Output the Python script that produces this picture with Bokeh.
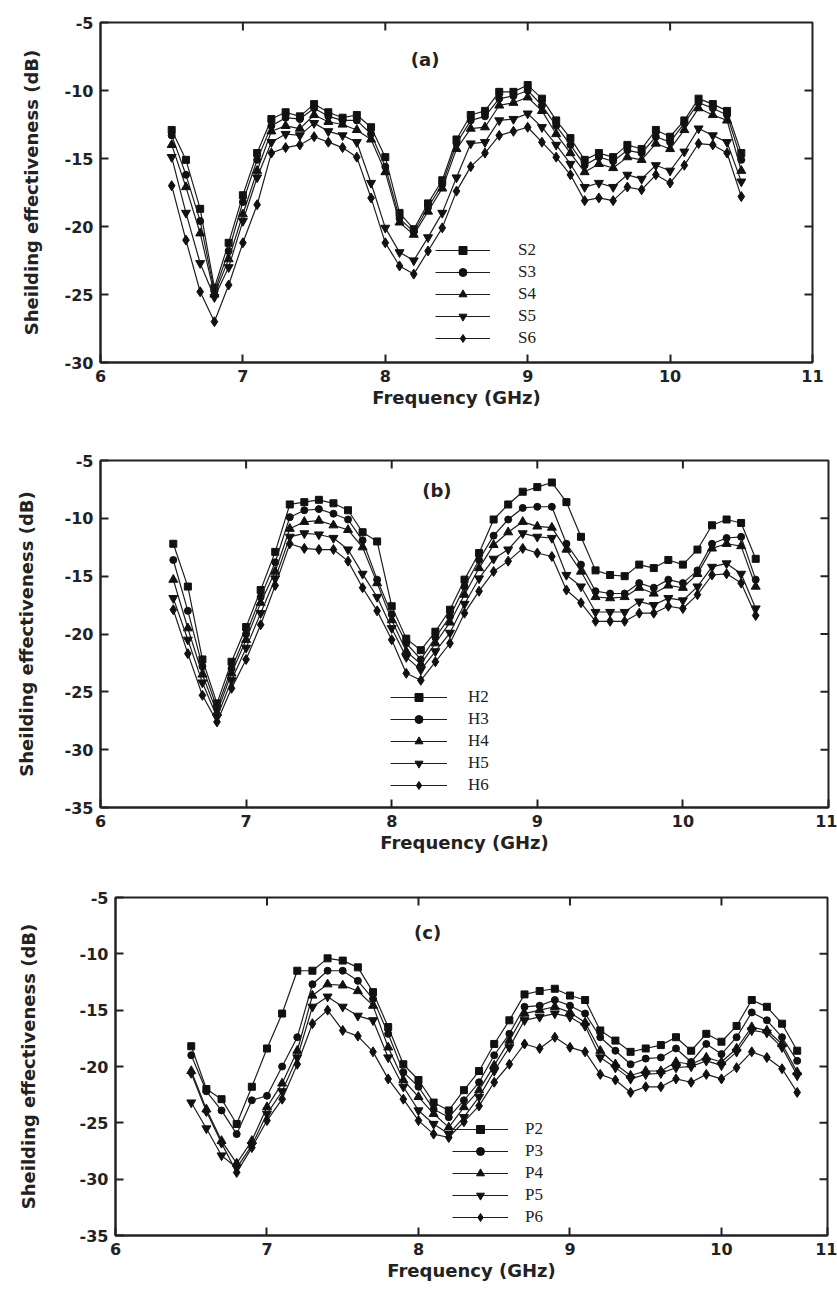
import math
from bokeh.plotting import figure
from bokeh.models import (FixedTicker, Legend, LegendItem, Label,
                          Range1d, ColumnDataSource)
from bokeh.embed import file_html
from bokeh.resources import INLINE

# ---------------- data ----------------
freq = [6.5, 6.6, 6.7, 6.8, 6.9, 7.0, 7.1, 7.2, 7.3, 7.4, 7.5, 7.6, 7.7, 7.8,
        7.9, 8.0, 8.1, 8.2, 8.3, 8.4, 8.5, 8.6, 8.7, 8.8, 8.9, 9.0, 9.1, 9.2,
        9.3, 9.4, 9.5, 9.6, 9.7, 9.8, 9.9, 10.0, 10.1, 10.2, 10.3, 10.4, 10.5]

S2 = [-12.9, -15.1, -18.7, -24.5, -21.2, -17.7, -14.6, -12.1, -11.6, -11.9, -11.0, -11.6,
      -12.0, -11.8, -12.7, -14.9, -19.0, -20.2, -18.3, -16.6, -13.6, -11.8, -11.5, -10.1,
      -10.1, -9.6, -10.6, -12.2, -13.5, -15.1, -14.6, -14.9, -14.0, -14.3, -12.9, -13.4,
      -12.2, -10.6, -11.0, -11.5, -14.6]
S3 = [-13.3, -16.2, -19.6, -24.8, -21.8, -18.2, -15.1, -12.6, -12.0, -12.1, -11.3, -11.9,
      -12.2, -12.2, -13.2, -15.6, -19.4, -20.4, -18.6, -16.9, -13.9, -12.2, -11.9, -10.6,
      -10.4, -10.0, -11.1, -12.6, -14.0, -15.5, -14.9, -15.2, -14.4, -14.6, -13.4, -13.8,
      -12.4, -10.9, -11.3, -11.8, -15.1]
S4 = [-14.0, -17.1, -20.5, -25.0, -22.4, -19.1, -15.9, -13.0, -12.6, -12.8, -11.8, -12.3,
      -12.5, -12.9, -13.6, -16.0, -19.7, -20.6, -18.9, -17.2, -14.3, -12.8, -12.7, -11.1,
      -10.9, -10.5, -11.5, -13.2, -14.6, -16.0, -15.4, -15.7, -14.9, -15.1, -13.9, -14.3,
      -12.9, -11.3, -11.8, -12.2, -15.9]
S5 = [-14.9, -19.0, -22.7, -25.2, -23.0, -19.6, -16.4, -13.8, -13.2, -13.3, -12.4, -13.0,
      -13.3, -13.8, -16.8, -20.1, -21.9, -22.5, -20.8, -19.0, -16.4, -13.9, -13.8, -12.2,
      -12.1, -11.7, -12.7, -14.0, -15.4, -17.1, -16.8, -17.1, -16.2, -16.5, -15.5, -15.9,
      -14.5, -12.8, -13.3, -13.8, -16.7]
S6 = [-17.0, -21.0, -24.8, -27.0, -24.3, -21.2, -18.4, -14.6, -14.2, -14.0, -13.4, -13.8,
      -14.2, -14.9, -17.9, -21.2, -22.9, -23.5, -21.8, -20.1, -17.4, -15.6, -14.6, -13.3,
      -13.0, -12.7, -13.8, -14.9, -16.2, -18.1, -17.9, -18.1, -17.1, -17.3, -16.2, -16.8,
      -15.5, -13.9, -14.0, -14.6, -17.8]

H2 = [-12.2, -15.9, -22.2, -26.0, -22.4, -19.4, -16.2, -12.9, -8.8, -8.6, -8.4, -8.7,
      -9.3, -11.2, -12.0, -17.6, -20.4, -21.4, -19.8, -17.9, -15.3, -13.0, -10.1, -8.8,
      -7.7, -7.3, -6.9, -8.6, -11.6, -14.5, -14.9, -15.0, -14.0, -14.3, -13.6, -14.0,
      -12.7, -10.6, -10.1, -10.4, -13.5]
H3 = [-13.6, -18.0, -22.8, -26.4, -23.0, -20.0, -16.8, -13.8, -9.9, -9.3, -9.2, -9.6,
      -10.1, -11.9, -15.3, -18.3, -20.8, -22.2, -20.3, -18.5, -15.9, -13.6, -11.5, -10.1,
      -9.1, -9.0, -9.0, -12.2, -14.0, -16.3, -16.5, -16.5, -15.6, -16.0, -15.3, -15.6,
      -14.5, -12.2, -11.7, -11.6, -15.3]
H4 = [-15.3, -19.5, -23.5, -26.8, -23.4, -20.5, -17.3, -14.6, -10.9, -10.3, -10.2, -10.6,
      -11.0, -12.5, -15.6, -18.8, -21.5, -22.6, -20.8, -19.0, -16.6, -14.3, -12.3, -11.2,
      -10.3, -10.7, -10.8, -12.7, -14.6, -16.8, -16.9, -16.8, -16.0, -16.5, -15.8, -16.0,
      -14.8, -12.6, -12.2, -12.4, -15.9]
H5 = [-16.9, -20.5, -24.2, -27.2, -24.0, -21.2, -18.2, -15.2, -11.6, -11.3, -11.4, -11.7,
      -12.7, -14.8, -16.8, -19.5, -22.0, -23.1, -21.5, -19.9, -17.4, -15.2, -13.5, -12.7,
      -11.3, -11.6, -11.7, -14.9, -15.9, -18.1, -18.1, -18.1, -17.2, -17.5, -16.9, -17.1,
      -15.9, -14.2, -13.9, -14.8, -17.8]
H6 = [-17.9, -21.7, -25.3, -27.6, -24.7, -22.2, -19.2, -15.8, -12.2, -12.6, -12.7, -12.7,
      -13.7, -16.0, -18.0, -20.5, -23.4, -24.0, -22.4, -20.8, -18.2, -16.3, -14.6, -13.7,
      -12.6, -13.0, -13.3, -16.2, -17.3, -18.9, -18.9, -18.9, -18.2, -18.2, -17.6, -17.8,
      -16.6, -14.9, -14.8, -15.6, -18.4]

P2 = [-18.2, -22.0, -22.9, -25.1, -21.8, -18.4, -15.3, -11.5, -11.5, -10.4, -10.6, -11.2,
      -13.4, -16.5, -19.8, -21.2, -23.2, -23.9, -22.1, -20.4, -18.0, -15.9, -13.6, -13.3,
      -13.1, -13.7, -14.1, -16.8, -17.7, -18.7, -18.4, -18.1, -17.4, -18.6, -17.1, -17.8,
      -16.4, -14.1, -14.7, -16.2, -18.6]
P3 = [-19.0, -22.2, -23.9, -26.0, -23.0, -22.6, -20.0, -17.4, -12.7, -11.5, -11.5, -12.4,
      -14.0, -17.1, -20.5, -21.8, -23.8, -24.5, -23.0, -21.4, -19.0, -17.1, -14.7, -14.6,
      -14.1, -14.6, -15.3, -17.4, -18.6, -19.8, -19.3, -19.2, -18.4, -19.6, -18.0, -18.9,
      -17.4, -15.2, -15.9, -17.4, -19.5]
P4 = [-20.4, -23.8, -26.6, -28.6, -26.6, -23.6, -21.5, -18.6, -13.7, -12.7, -12.8, -13.3,
      -14.6, -18.3, -21.2, -22.7, -24.2, -25.4, -23.6, -22.1, -19.9, -17.7, -15.3, -15.0,
      -14.7, -15.2, -16.1, -18.6, -19.8, -20.8, -20.4, -20.4, -19.6, -19.8, -19.2, -19.6,
      -18.4, -16.5, -16.8, -18.0, -20.5]
P5 = [-23.2, -25.5, -27.9, -29.0, -27.0, -24.2, -22.2, -19.2, -14.7, -13.8, -14.7, -15.5,
      -15.9, -19.2, -21.8, -23.9, -25.1, -26.0, -24.5, -22.7, -20.4, -18.3, -15.9, -15.6,
      -15.3, -15.6, -16.4, -19.2, -20.1, -21.1, -20.7, -20.6, -20.1, -20.0, -19.5, -19.9,
      -18.7, -16.8, -17.0, -18.3, -20.8]
P6 = [-20.6, -24.0, -26.8, -29.4, -27.2, -24.8, -22.9, -19.8, -16.2, -15.0, -16.8, -17.3,
      -18.7, -21.1, -22.9, -24.8, -26.0, -26.3, -24.9, -23.5, -21.4, -19.8, -18.0, -18.4,
      -17.4, -18.3, -18.7, -20.7, -21.2, -22.3, -21.8, -21.8, -21.1, -21.4, -20.7, -21.1,
      -20.1, -18.7, -19.2, -20.2, -22.3]

x_ticks_ab = [6, 7, 8, 9, 10, 11]
x_ticks_c = [6, 7, 8, 9, 10, 10.7]
x_labels_c = {10.7: "11"}
y_ticks_a = [-30, -25, -20, -15, -10, -5]
y_ticks_bc = [-35, -30, -25, -20, -15, -10, -5]

markers = ["square", "circle", "triangle", "inverted_triangle", "diamond"]
msizes = [7, 7, 9, 9, 10]

FONT = "DejaVu Sans"
INK = "#222222"


def style_axis(ax):
    ax.axis_line_width = 2
    ax.axis_line_color = INK
    ax.major_tick_in = 8
    ax.major_tick_out = 0
    ax.minor_tick_in = 0
    ax.minor_tick_out = 0
    ax.major_tick_line_width = 2
    ax.major_tick_line_color = INK
    ax.major_label_text_font = FONT
    ax.major_label_text_font_style = "bold"
    ax.major_label_text_color = INK
    ax.major_label_text_font_size = "16px"
    ax.major_label_standoff = 7
    ax.axis_label_text_font = FONT
    ax.axis_label_text_font_style = "bold"
    ax.axis_label_text_font_size = "18px"
    ax.axis_label_text_color = INK


def panel(names, series, tag, tag_xy, W, H, left, right, top, bottom, xmax,
          ylo, yticks, xticks, xover, leg_loc, leg_standoff, glyph_w, ylab_so):
    p = figure(width=W, height=H, x_range=Range1d(6, xmax), y_range=Range1d(ylo, -5),
               output_backend="svg", toolbar_location=None,
               min_border_left=left, min_border_right=right,
               min_border_top=top, min_border_bottom=bottom)
    p.grid.visible = False
    p.outline_line_color = INK
    p.outline_line_width = 2
    p.background_fill_color = "white"
    p.border_fill_color = "white"

    p.xaxis.ticker = FixedTicker(ticks=xticks)
    p.yaxis.ticker = FixedTicker(ticks=yticks)
    if xover:
        p.xaxis.major_label_overrides = xover
    # plain hyphen for negative tick labels, as in the original
    p.yaxis.major_label_overrides = {t: "-%d" % abs(t) for t in yticks}
    p.xaxis.axis_label = "Frequency (GHz)"
    p.yaxis.axis_label = "Sheilding effectiveness (dB)"
    for ax in p.xaxis + p.yaxis:
        style_axis(ax)
    p.xaxis.axis_label_standoff = 2
    p.yaxis.axis_label_standoff = ylab_so

    # mirrored inside ticks on the top and right edges of the box
    inner_x = [t for t in xticks[1:-1]]
    inner_y = [t for t in yticks[1:-1]]
    p.ray(x=inner_x, y=[-5] * len(inner_x), length=8, length_units="screen",
          angle=-math.pi / 2, line_color=INK, line_width=2)
    p.ray(x=[xmax] * len(inner_y), y=inner_y, length=8, length_units="screen",
          angle=math.pi, line_color=INK, line_width=2)

    items = []
    for name, vals, mk, ms in zip(names, series, markers, msizes):
        src = ColumnDataSource(dict(x=freq, y=vals))
        rl = p.line("x", "y", source=src, line_color="#1e1e1e", line_width=1.2)
        rs = p.scatter("x", "y", source=src, marker=mk, size=ms,
                       fill_color="#111111", line_color="#111111")
        items.append(LegendItem(label=name, renderers=[rl, rs]))

    leg = Legend(items=items, location=leg_loc, glyph_width=glyph_w, glyph_height=20,
                 label_height=20, spacing=2, padding=0, margin=0,
                 border_line_color=None, background_fill_alpha=0,
                 label_text_font="Liberation Serif", label_text_font_size="17px",
                 label_text_color=INK, label_standoff=leg_standoff)
    p.add_layout(leg)

    p.add_layout(Label(x=tag_xy[0], y=tag_xy[1], text=tag, text_font=FONT,
                       text_font_style="bold", text_font_size="18px",
                       text_color=INK, text_align="center",
                       text_baseline="middle"))
    return p


pa = panel(["S2", "S3", "S4", "S5", "S6"], [S2, S3, S4, S5, S6], "(a)", (8.28, -7.7),
           837, 430, 100, 25, 22, 68, 11, -30, y_ticks_a, x_ticks_ab, None,
           (335, 14), 28, 55, 20)
pb = panel(["H2", "H3", "H4", "H5", "H6"], [H2, H3, H4, H5, H6], "(b)", (8.31, -7.6),
           837, 440, 100, 9, 30, 63, 11, -35, y_ticks_bc, x_ticks_ab, None,
           (290, 12), 21, 57, 25)
pc = panel(["P2", "P3", "P4", "P5", "P6"], [P2, P3, P4, P5, P6], "(c)", (8.06, -8.1),
           837, 428, 115, 10, 27, 63, 10.7, -35, y_ticks_bc, x_ticks_c, x_labels_c,
           (337, 8), 17, 56, 38)

# three independent roots, stacked top to bottom
open("out.html", "w").write(file_html([pa, pb, pc], INLINE))
